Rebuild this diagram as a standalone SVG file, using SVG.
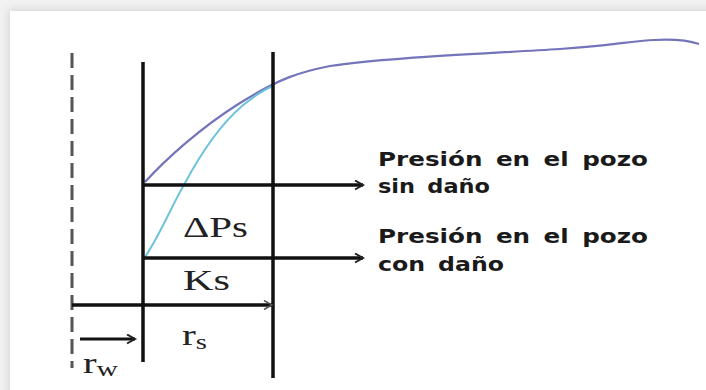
<svg xmlns="http://www.w3.org/2000/svg" width="706" height="390" viewBox="0 0 706 390">
<defs>
<style>
.bd{stroke:#111;stroke-width:3.5;fill:none}
.ar{stroke:#111;stroke-width:3.5;fill:none;marker-end:url(#ah)}
.lbl{font-family:"Liberation Serif","Times New Roman",serif;font-size:29px;fill:#222}
.note{font-family:"DejaVu Sans","Liberation Sans",sans-serif;font-weight:bold;font-size:20px;word-spacing:4px;fill:#1a1a1a}
</style>
<marker id="ah" markerWidth="12" markerHeight="12" refX="9" refY="5" orient="auto" markerUnits="userSpaceOnUse">
<path d="M1,0.5 L9,5 L1,9.5" fill="none" stroke="#222" stroke-width="2"/>
</marker>
<marker id="ahg" markerWidth="12" markerHeight="12" refX="9" refY="5" orient="auto" markerUnits="userSpaceOnUse">
<path d="M1,0.5 L9,5 L1,9.5" fill="none" stroke="#555" stroke-width="1.5"/>
</marker>
<filter id="sh" x="-5%" y="-5%" width="110%" height="110%">
<feGaussianBlur stdDeviation="4"/>
</filter>
</defs>
<g id="frame">
<rect x="0" y="0" width="706" height="390" fill="#f2f2f2"/>
<rect x="8" y="9" width="720" height="400" fill="#d8d8d8" filter="url(#sh)"/>
<rect x="10" y="11" width="720" height="400" fill="#ffffff"/>
</g>
<g id="curves">
<path d="M145,182 C165,160 200,128 240,103 S300,72 330,66 C380,58 480,54 560,49 C610,46 630,41 655,40 C675,39 690,41 699,44" fill="none" stroke="#7474bb" stroke-width="2.2"/>
<path d="M145,257 C160,235 172,205 185,183 C200,155 220,125 242,106 C253,97 263,90 273,86" fill="none" stroke="#6ec3dc" stroke-width="2"/>
</g>
<g id="boundaries">
<line id="wellbore" x1="72" y1="53" x2="72" y2="368" stroke="#555" stroke-width="3" stroke-dasharray="15 7"/>
<line id="well-wall" class="bd" x1="143" y1="62" x2="143" y2="362"/>
<line id="damage-radius" class="bd" x1="273" y1="52" x2="273" y2="378"/>
</g>
<g id="connectors">
<line id="arrow-sin-dano" class="ar" x1="143" y1="185" x2="363" y2="185"/>
<line id="arrow-con-dano" class="ar" x1="143" y1="258" x2="363" y2="258"/>
<line id="arrow-rs" x1="72" y1="305" x2="272" y2="305" stroke="#111" stroke-width="3.5" marker-end="url(#ahg)"/>
<line id="arrow-rw" x1="80" y1="339" x2="135" y2="339" stroke="#111" stroke-width="3" marker-end="url(#ah)"/>
</g>
<g id="label-dps"><text class="lbl" x="183" y="237" textLength="65" lengthAdjust="spacingAndGlyphs">ΔPs</text></g>
<g id="label-ks"><text class="lbl" x="183" y="290" font-size="31" textLength="47" lengthAdjust="spacingAndGlyphs">Ks</text></g>
<g id="label-rs"><text class="lbl" x="182" y="345" textLength="25" lengthAdjust="spacingAndGlyphs">r<tspan font-size="20" dy="4">s</tspan></text></g>
<g id="label-rw"><text class="lbl" x="83" y="373" textLength="35" lengthAdjust="spacingAndGlyphs">r<tspan font-size="21" dy="3">w</tspan></text></g>
<g id="note-sin-dano">
<text class="note" x="378" y="166" textLength="270" lengthAdjust="spacingAndGlyphs">Presión en el pozo</text>
<text class="note" x="378" y="193" textLength="112" lengthAdjust="spacingAndGlyphs">sin daño</text>
</g>
<g id="note-con-dano">
<text class="note" x="378" y="243" textLength="270" lengthAdjust="spacingAndGlyphs">Presión en el pozo</text>
<text class="note" x="378" y="271" textLength="126" lengthAdjust="spacingAndGlyphs">con daño</text>
</g>
</svg>
